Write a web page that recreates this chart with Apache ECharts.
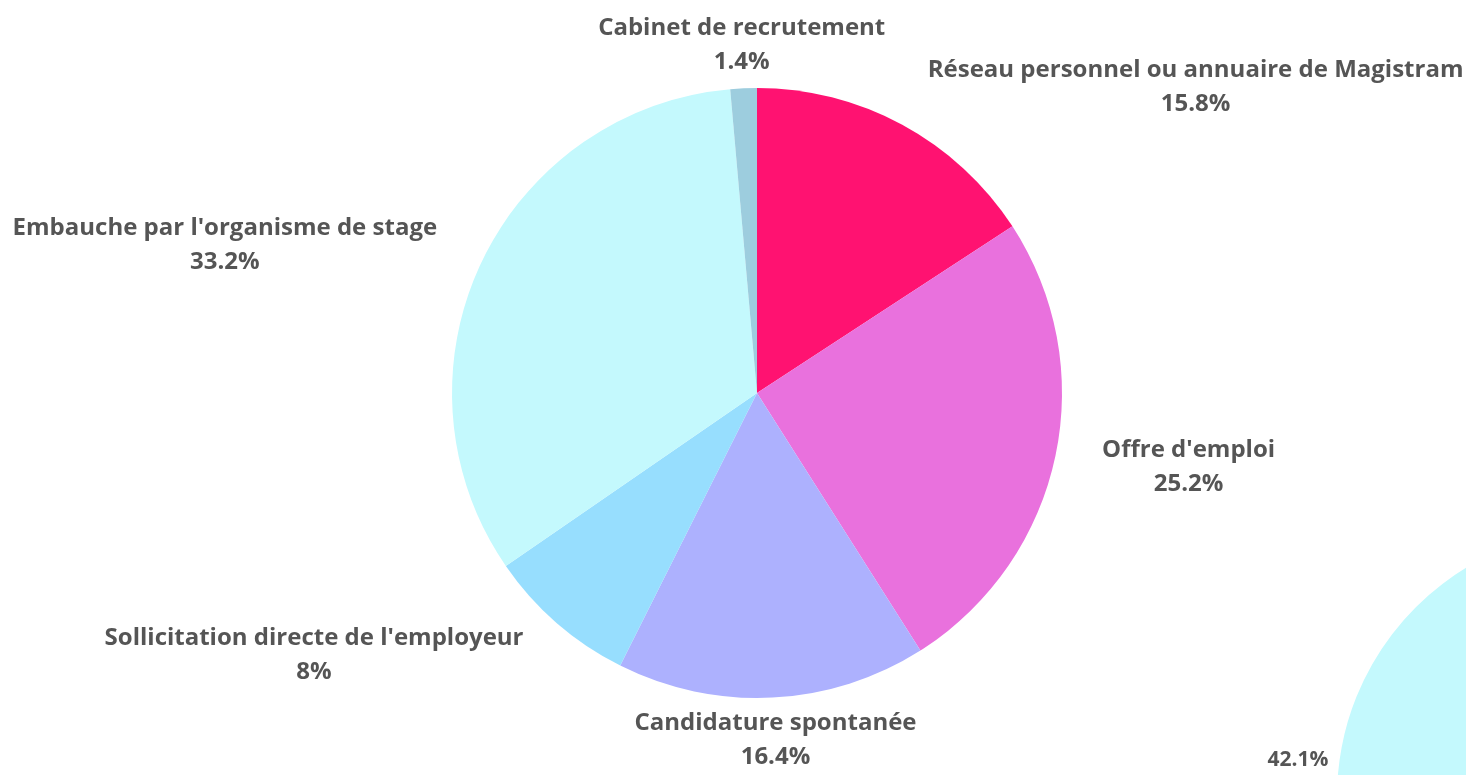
<!DOCTYPE html>
<html>
<head>
<meta charset="utf-8">
<style>
  html, body { margin: 0; padding: 0; background: #fff; }
  #main { width: 1466px; height: 775px; }
</style>
<script src="https://cdn.jsdelivr.net/npm/echarts@6/dist/echarts.min.js"></script>
</head>
<body>
<div id="main"></div>
<script>
// catégories (dans le sens horaire depuis le haut)
var categories = [
    'Réseau personnel ou annuaire de Magistram',
    "Offre d'emploi",
    'Candidature spontanée',
    "Sollicitation directe de l'employeur",
    "Embauche par l'organisme de stage",
    'Cabinet de recrutement'
];
// parts en % du premier camembert
var parts = [15.8, 25.2, 16.4, 8, 33.2, 1.4];
// second camembert (seule la part 42.1% est visible, les autres sont estimées)
var parts2 = [14.0, 19.3, 15.2, 7.6, 42.1, 1.8];
var couleurs = ['#ff1271', '#e971dd', '#adb1fe', '#97defe', '#c4f9fd', '#9dcdde'];

var labelLen = 43, labelLen2 = 0;

var myChart = echarts.init(document.getElementById('main'));

var option = {
    color: couleurs,
    animation: false,
    series: [
        {
            type: 'pie',
            center: [757, 393],
            radius: 305,
            startAngle: 90,
            clockwise: true,
            avoidLabelOverlap: false,
            data: categories.map(function (c, i) { return { name: c, value: parts[i] }; }),
            label: {
                show: true,
                position: 'outer',
                formatter: '{a|{b}}\n{a|{d}%}',
                rich: {
                    a: {
                        fontFamily: 'Open Sans',
                        fontWeight: 'bold',
                        fontSize: 24,
                        lineHeight: 34,
                        color: '#555',
                        align: 'center'
                    }
                }
            },
            labelLine: { show: false, length: labelLen, length2: labelLen2 },
            // étiquettes presque verticales : centrées sur le bout du trait
            labelLayout: function (p) {
                var n = categories[p.dataIndex];
                if (n === 'Cabinet de recrutement') {
                    return { x: p.labelRect.x + p.labelRect.width + 5, align: 'center' };
                }
                if (n === 'Candidature spontanée') {
                    return { x: p.labelRect.x - 4, align: 'center' };
                }
                return {};
            }
        },
        {
            type: 'pie',
            center: [1605, 797],
            radius: 268,
            startAngle: 90,
            clockwise: true,
            avoidLabelOverlap: false,
            data: categories.map(function (c, i) { return { name: c, value: parts2[i] }; }),
            label: {
                show: true,
                position: 'outer',
                formatter: '{d}%',
                fontFamily: 'Open Sans',
                fontWeight: 'bold',
                fontSize: 21,
                color: '#555'
            },
            labelLine: { show: false, length: 6, length2: 0 }
        }
    ]
};

myChart.setOption(option);
</script>
</body>
</html>
